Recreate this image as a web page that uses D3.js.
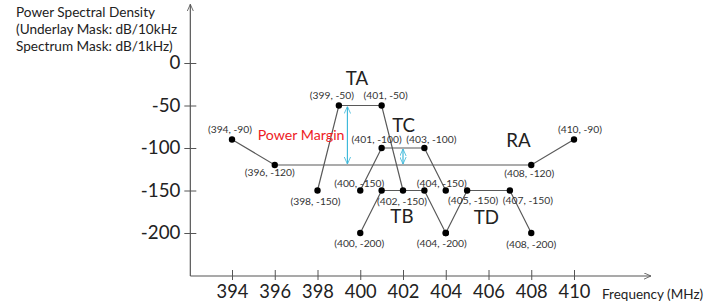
<!DOCTYPE html>
<meta charset="utf-8">
<style type="text/css">
  body { margin: 0; background: #fff; }
  text { font-family: Lato, "Open Sans", sans-serif; fill: #222; }
  .mask-line { fill: none; stroke: #595959; stroke-width: 1.2px; }
  .pt-label { font-size: 10.3px; fill: #333; }
  .mask-name { font-size: 18.7px; }
</style>
<body>
<div class="chart"></div>

<script src="https://cdnjs.cloudflare.com/ajax/libs/d3/7.8.5/d3.min.js"></script>
<script>

// mask shapes, frequency in MHz and PSD in dB
var raFreq = [394, 396, 408, 410],
    raPsd  = [-90, -120, -120, -90];
var taFreq = [398, 399, 401, 402],
    taPsd  = [-150, -50, -50, -150];
var tbFreq = [400, 401, 403, 404],
    tbPsd  = [-200, -150, -150, -200];
var tcFreq = [400, 401, 403, 404],
    tcPsd  = [-150, -100, -100, -150];
var tdFreq = [404, 405, 407, 408],
    tdPsd  = [-200, -150, -150, -200];

var maskNames = ["RA", "TA", "TB", "TC", "TD"];

var xTicks = [394, 396, 398, 400, 402, 404, 406, 408, 410];
var yTicks = [0, -50, -100, -150, -200];

var titleLines = ["Power Spectral Density", "(Underlay Mask: dB/10kHz", "Spectrum Mask: dB/1kHz)"];

// power margins (freq, from, to)
var marginFreq = [399.4, 402],
    marginTop  = [-50, -100],
    marginBot  = [-120, -120];

var width = 722,
    height = 306;

var x = d3.scaleLinear().domain([394, 410]).range([232, 574]);
var y = d3.scaleLinear().domain([0, -200]).range([63, 233]);

// axis extents in data units
var xOrigin = 392.05, xEnd = 413.6,
    yOrigin = -250.6, yEnd = 69;

var svg = d3.select(".chart").append("svg")
    .attr("width", width)
    .attr("height", height);

var defs = svg.append("defs");
function arrowMarker(id, color) {
  defs.append("marker")
      .attr("id", id)
      .attr("viewBox", "0 -5 10 10")
      .attr("refX", 10).attr("refY", 0)
      .attr("markerWidth", 7).attr("markerHeight", 7)
      .attr("markerUnits", "userSpaceOnUse")
      .attr("orient", "auto-start-reverse")
    .append("path")
      .attr("d", "M0,-4.5L10,0L0,4.5")
      .attr("fill", "none")
      .attr("stroke", color)
      .attr("stroke-width", 1.2);
}
arrowMarker("axis-arrow", "#555");
arrowMarker("cyan-arrow", "#3fb9da");

// axes lines with arrows
svg.append("line")
    .attr("x1", x(xOrigin)).attr("y1", y(yOrigin))
    .attr("x2", x(xEnd)).attr("y2", y(yOrigin))
    .attr("stroke", "#555").attr("stroke-width", 1.2)
    .attr("marker-end", "url(#axis-arrow)");
svg.append("line")
    .attr("x1", x(xOrigin)).attr("y1", y(yOrigin))
    .attr("x2", x(xOrigin)).attr("y2", y(yEnd))
    .attr("stroke", "#555").attr("stroke-width", 1.2)
    .attr("marker-end", "url(#axis-arrow)");

var yAxis = svg.append("g")
    .attr("transform", "translate(" + x(xOrigin) + ",0)")
    .call(d3.axisLeft(y).tickValues(yTicks).tickSize(6).tickPadding(4)
      .tickFormat(function(d) { return String(d); }));
yAxis.select(".domain").remove();
yAxis.selectAll(".tick line").attr("x1", 6).attr("stroke", "#555");
yAxis.selectAll(".tick text")
    .style("font-family", "Lato, sans-serif")
    .style("font-size", "18.7px")
    .attr("fill", "#222")
    .attr("x", -10);

var xAxis = svg.append("g")
    .attr("transform", "translate(0," + y(yOrigin) + ")")
    .call(d3.axisBottom(x).tickValues(xTicks).tickSize(4));
xAxis.select(".domain").remove();
xAxis.selectAll(".tick line").attr("y1", -6).attr("stroke", "#555");
xAxis.selectAll(".tick text")
    .style("font-family", "Lato, sans-serif")
    .style("font-size", "18.3px")
    .attr("fill", "#222")
    .attr("y", 22).attr("dy", 0);

svg.append("text")
    .attr("x", 602).attr("y", y(yOrigin) + 23)
    .style("font-size", "13.5px")
    .text("Frequency (MHz)");

svg.append("g").selectAll("text")
    .data(titleLines)
  .enter().append("text")
    .attr("x", 16)
    .attr("y", function(d, i) { return 17 + i * 17; })
    .style("font-size", "13.6px")
    .text(function(d) { return d; });

// build mask series
var masks = [
  {name: "RA", freq: raFreq, psd: raPsd},
  {name: "TA", freq: taFreq, psd: taPsd},
  {name: "TB", freq: tbFreq, psd: tbPsd},
  {name: "TC", freq: tcFreq, psd: tcPsd},
  {name: "TD", freq: tdFreq, psd: tdPsd}
].map(function(m) {
  m.points = m.freq.map(function(f, i) { return [f, m.psd[i]]; });
  return m;
});

var line = d3.line()
    .x(function(d) { return x(d[0]); })
    .y(function(d) { return y(d[1]); });

svg.append("g").selectAll("path")
    .data(masks)
  .enter().append("path")
    .attr("class", "mask-line")
    .attr("d", function(d) { return line(d.points); });

// power margin arrows
svg.append("g").selectAll("line")
    .data(marginFreq)
  .enter().append("line")
    .attr("x1", function(d) { return x(d); })
    .attr("x2", function(d) { return x(d); })
    .attr("y1", function(d, i) { return y(marginTop[i]) + 1; })
    .attr("y2", function(d, i) { return y(marginBot[i]) - 1; })
    .attr("stroke", "#3fb9da").attr("stroke-width", 1.2)
    .attr("marker-start", "url(#cyan-arrow)")
    .attr("marker-end", "url(#cyan-arrow)");

svg.append("text")
    .attr("x", x(395.2)).attr("y", y(-90.6))
    .style("font-size", "14.2px")
    .style("fill", "#ee1c25")
    .text("Power Margin");

// dots
var allPts = [];
masks.forEach(function(m) { m.points.forEach(function(p) { allPts.push({mask: m.name, p: p}); }); });

svg.append("g").selectAll("circle")
    .data(allPts)
  .enter().append("circle")
    .attr("cx", function(d) { return x(d.p[0]); })
    .attr("cy", function(d) { return y(d.p[1]); })
    .attr("r", 3.2)
    .attr("fill", "#000");

// label placement nudges (px) keyed by mask/point, unlisted points get no label
var labelNudge = {
  "RA394,-90": [-2, -7], "RA396,-120": [-5, 11], "RA408,-120": [-2, 12], "RA410,-90": [6, -7],
  "TA398,-150": [-2, 14], "TA399,-50": [-7, -7], "TA401,-50": [4, -7], "TA402,-150": [-1, 14],
  "TC400,-150": [-1, -4], "TC401,-100": [-5, -5], "TC403,-100": [7, -5], "TC404,-150": [-4, -4],
  "TB400,-200": [-1, 14], "TB404,-200": [-4, 14],
  "TD405,-150": [6, 13], "TD407,-150": [18, 13], "TD408,-200": [0, 15]
};

svg.append("g").selectAll("text")
    .data(allPts.filter(function(d) { return labelNudge[d.mask + d.p[0] + "," + d.p[1]]; }))
  .enter().append("text")
    .attr("class", "pt-label")
    .attr("text-anchor", "middle")
    .attr("x", function(d) { return x(d.p[0]) + labelNudge[d.mask + d.p[0] + "," + d.p[1]][0]; })
    .attr("y", function(d) { return y(d.p[1]) + labelNudge[d.mask + d.p[0] + "," + d.p[1]][1]; })
    .text(function(d) { return "(" + d.p[0] + ", " + d.p[1] + ")"; });

// mask names
var namePos = {RA: [407.4, -99], TA: [399.85, -26], TB: [401.95, -188], TC: [402.03, -81], TD: [405.9, -189]};
svg.append("g").selectAll("text")
    .data(maskNames)
  .enter().append("text")
    .attr("class", "mask-name")
    .attr("text-anchor", "middle")
    .attr("x", function(d) { return x(namePos[d][0]); })
    .attr("y", function(d) { return y(namePos[d][1]); })
    .text(function(d) { return d; });

</script>
</body>
